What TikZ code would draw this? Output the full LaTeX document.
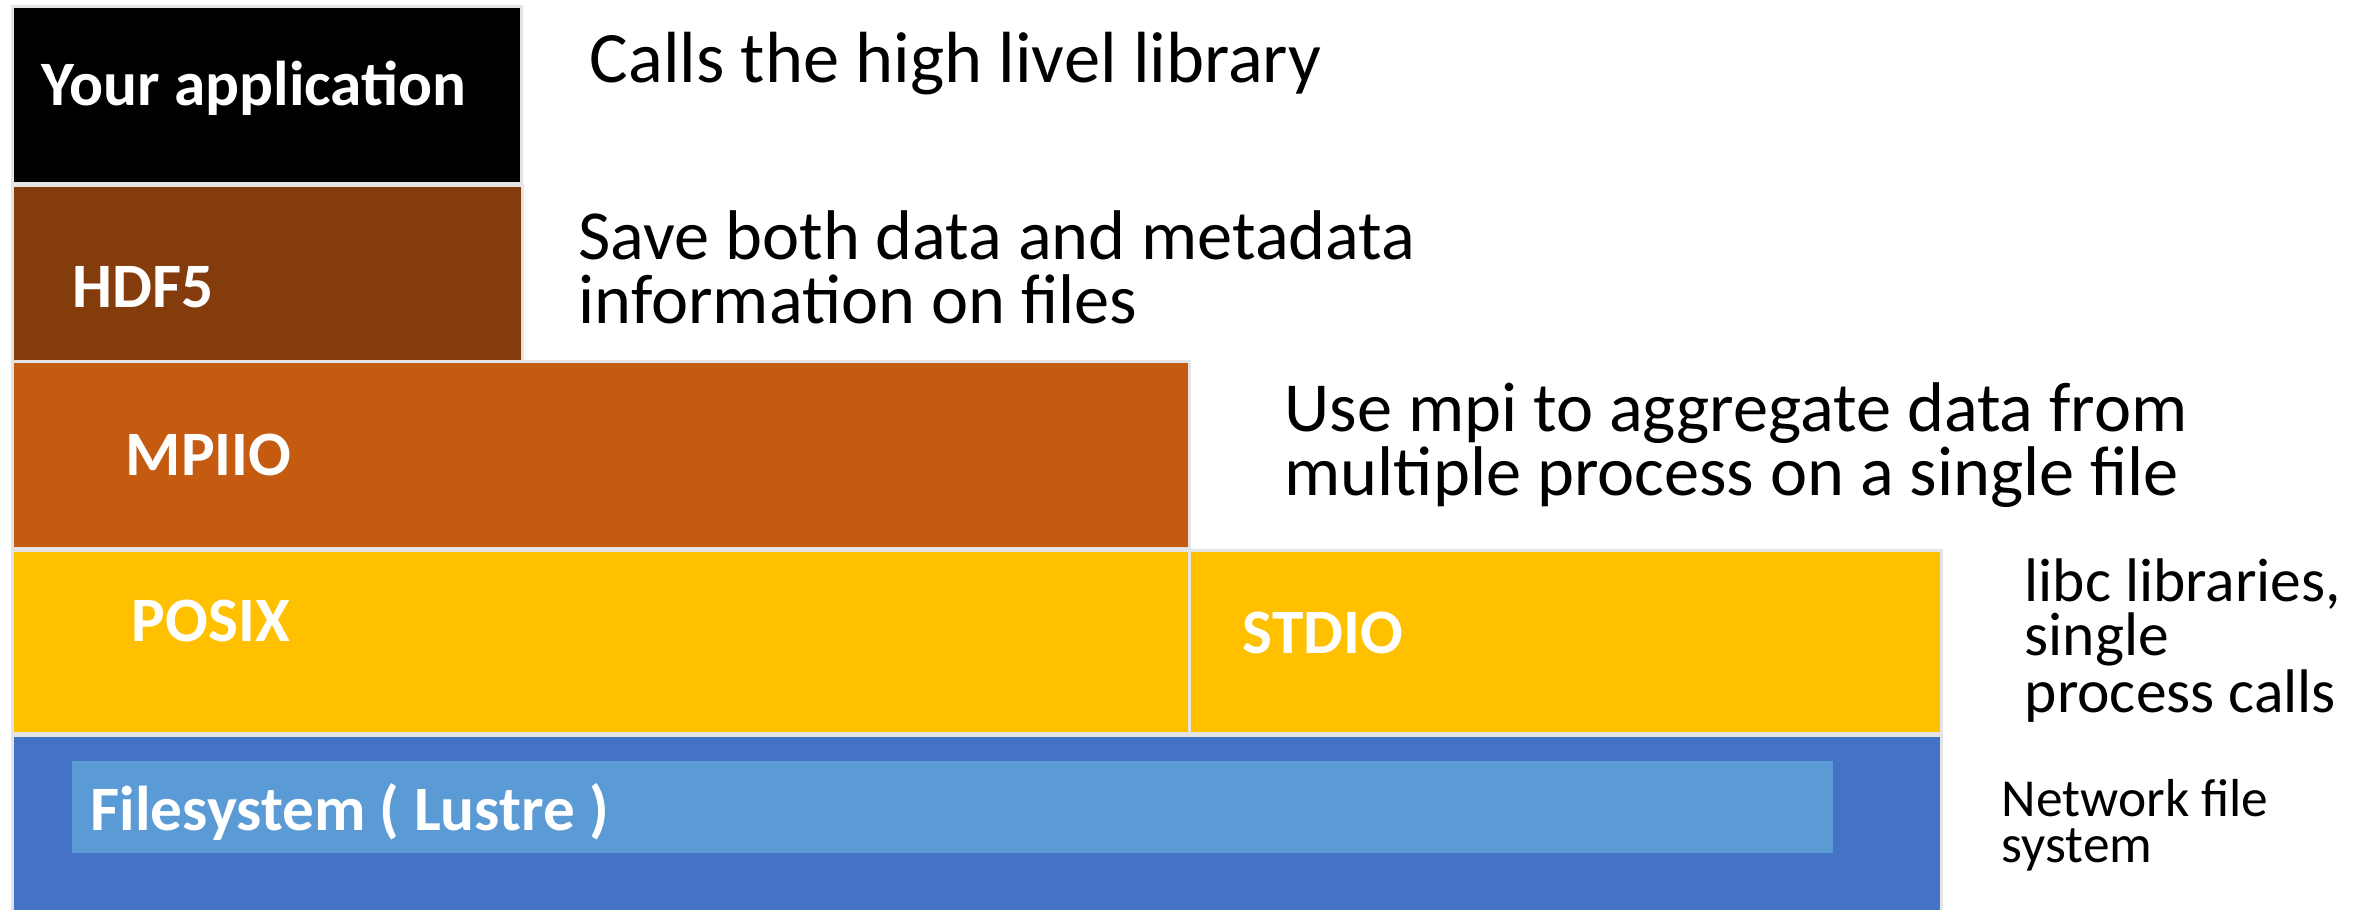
\documentclass[tikz,border=0pt]{standalone}
\usepackage{fontspec}
\setmainfont{Carlito}
\usetikzlibrary{positioning}

\definecolor{hdfbrown}{HTML}{843C0C}
\definecolor{mpiorange}{HTML}{C55A11}
\definecolor{posixgold}{HTML}{FFC000}
\definecolor{fsblue}{HTML}{4472C4}
\definecolor{lustreblue}{HTML}{5B9BD5}
\definecolor{edgegray}{HTML}{E4E4E4}

\tikzset{
	layer/.style={draw=edgegray, line width=0.8pt, anchor=north west, inner sep=0pt},
	tag/.style={text=white, font=\fontsize{18}{20}\selectfont\bfseries, inner sep=0pt},
	note/.style={font=\fontsize{20}{18.2}\selectfont, align=left, anchor=base west, inner sep=0pt},
}

\begin{document}
\begin{tikzpicture}[x=0.01cm, y=-0.01cm]
	\useasboundingbox (0,0) rectangle (2364,910);
	% the stack of layers
	\node[layer, fill=black, minimum width=5.09cm, minimum height=1.77cm] (app) at (11,5) {};
	\node[layer, fill=hdfbrown, minimum width=5.10cm, minimum height=1.77cm] (hdf) at (11,184) {};
	\node[layer, fill=mpiorange, minimum width=11.76cm, minimum height=1.87cm] (mpi) at (11,360) {};
	\node[layer, fill=posixgold, minimum width=11.76cm, minimum height=1.83cm] (posix) at (11,549) {};
	\node[layer, fill=posixgold, minimum width=7.52cm, minimum height=1.83cm] (stdio) at (1188,549) {};
	\node[layer, fill=fsblue, minimum width=19.28cm, minimum height=2.2cm] (fs) at (11,734) {};
	\node[anchor=north west, fill=lustreblue, minimum width=17.6cm, minimum height=0.92cm, inner sep=0pt] (lustre) at (71,760) {};
	% names inside the layers
	\node[tag, anchor=base] (apptxt) at (254,106) {Your application};
	\node[tag, anchor=base west] (hdftxt) at (72,308) {HDF5};
	\node[tag, anchor=base west] (mpitxt) at (125,476) {MPIIO};
	\node[tag, anchor=base west] (posixtxt) at (131,641) {POSIX};
	\node[tag, anchor=base west] (stdiotxt) at (1242,653) {STDIO};
	\node[tag, anchor=base west] (lustretxt) at (90,830) {Filesystem ( Lustre )};
	% what each layer does (base = last line)
	\node[note, font=\fontsize{20.6}{18.2}\selectfont] (appnote) at (589,83) {Calls the high livel library};
	\node[note] (hdfnote) at (578,324) {Save both data and metadata\\information on files};
	\node[note] (mpinote) at (1284,496) {Use mpi to aggregate data from\\multiple process on a single file};
	\node[note, font=\fontsize{17.5}{13.5}\selectfont] (posixnote) at (2024,712) {libc libraries,\\single\\process calls};
	\node[note, font=\fontsize{15.2}{12.8}\selectfont] (fsnote) at (2001,862) {Network file\\system};
\end{tikzpicture}
\end{document}
